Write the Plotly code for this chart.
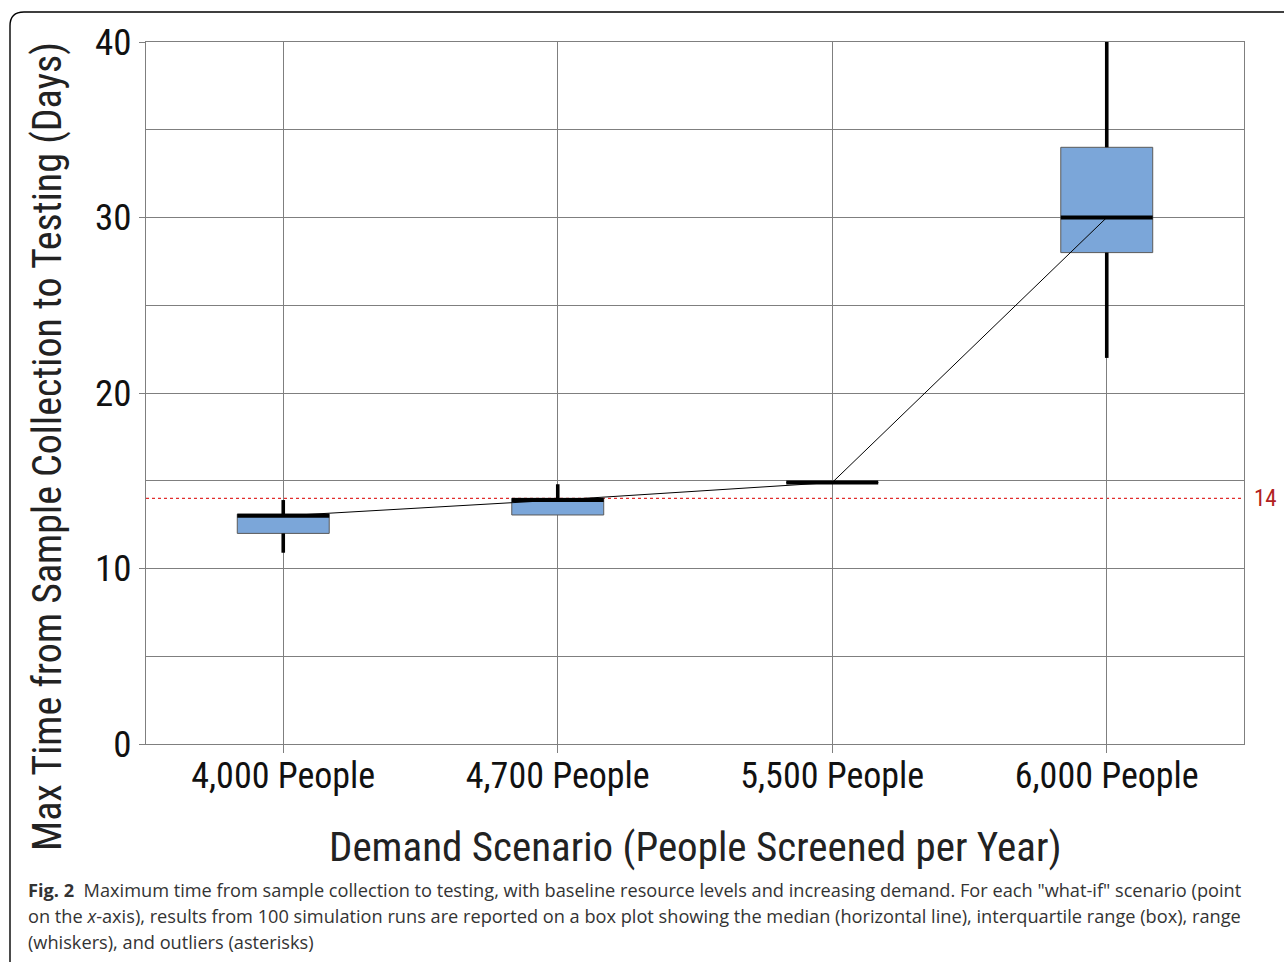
import plotly.graph_objects as go

# Demand scenarios and box-plot statistics (days)
scenarios = ["4,000 People", "4,700 People", "5,500 People", "6,000 People"]
lower_whisker = [10.9, 13.05, 14.9, 22.0]
q1 = [12.0, 13.05, 14.9, 28.0]
median = [13.0, 13.9, 14.9, 30.0]
q3 = [13.1, 14.0, 14.9, 34.0]
upper_whisker = [13.9, 14.8, 14.9, 40.0]
target_days = 14
y_ticks = [0, 10, 20, 30, 40]

W, H = 1284, 962
L, R, T, B = 146, 40, 42, 218
PW, PH = W - L - R, H - T - B

def px_x(x):
    return (x - L) / PW

def px_y(y):
    return (H - B - y) / PH

NARROW = "Liberation Sans Narrow, Arial Narrow, Roboto Condensed, Liberation Sans, sans-serif"
CAPTION = "Open Sans, Noto Sans, sans-serif"
BOX_W = 0.335
GRID = "#7f7f7f"

xs = list(range(len(scenarios)))

fig = go.Figure()

fig.add_trace(go.Box(
    x=xs, q1=q1, median=median, q3=q3,
    lowerfence=lower_whisker, upperfence=upper_whisker,
    width=BOX_W, whiskerwidth=0,
    fillcolor="#7ba6d9", line=dict(color="#5a5a5a", width=1),
    boxpoints=False, hoverinfo="skip", showlegend=False,
))

# line joining the medians
fig.add_trace(go.Scatter(
    x=xs, y=median, mode="lines",
    line=dict(color="black", width=1), showlegend=False, hoverinfo="skip",
))

# heavy whiskers
wx, wy = [], []
for i in xs:
    if upper_whisker[i] > q3[i]:
        wx += [i, i, None]
        wy += [q3[i], upper_whisker[i], None]
    if lower_whisker[i] < q1[i]:
        wx += [i, i, None]
        wy += [q1[i], lower_whisker[i], None]
fig.add_trace(go.Scatter(
    x=wx, y=wy, mode="lines",
    line=dict(color="black", width=3.6), showlegend=False, hoverinfo="skip",
))

# heavy median bars
mx, my = [], []
for i in xs:
    mx += [i - BOX_W / 2, i + BOX_W / 2, None]
    my += [median[i], median[i], None]
fig.add_trace(go.Scatter(
    x=mx, y=my, mode="lines",
    line=dict(color="black", width=4), showlegend=False, hoverinfo="skip",
))

shapes = [
    # 14-day target line
    dict(type="line", xref="paper", yref="y", x0=0, x1=1, y0=target_days, y1=target_days,
         line=dict(color="rgb(225,45,45)", width=1.2, dash="dot"), layer="below"),
    # figure frame
    dict(type="path", xref="paper", yref="paper",
         path=(f"M {px_x(10)} {px_y(975)} L {px_x(10)} {px_y(26)} "
               f"Q {px_x(10)} {px_y(12)} {px_x(24)} {px_y(12)} L {px_x(1300)} {px_y(12)}"),
         line=dict(color="black", width=1.4)),
]

annotations = [
    dict(text=str(target_days), x=px_x(1265), y=target_days, xref="paper", yref="y",
         showarrow=False, font=dict(family=NARROW, size=23, color="#b22222"),
         xanchor="center", yanchor="middle"),
    dict(text="Max Time from Sample Collection to Testing (Days)",
         x=px_x(48), y=px_y(447), xref="paper", yref="paper", textangle=-90,
         showarrow=False, font=dict(family=NARROW, size=40, color="#222"),
         xanchor="center", yanchor="middle"),
    dict(text="Demand Scenario (People Screened per Year)",
         x=0.5, y=px_y(847), xref="paper", yref="paper",
         showarrow=False, font=dict(family=NARROW, size=41, color="#222"),
         xanchor="center", yanchor="middle"),
]

caption_lines = [
    "<b>Fig. 2</b>  Maximum time from sample collection to testing, with baseline resource levels and increasing demand. For each \"what-if\" scenario (point",
    "on the <i>x</i>-axis), results from 100 simulation runs are reported on a box plot showing the median (horizontal line), interquartile range (box), range",
    "(whiskers), and outliers (asterisks)",
]
for k, line in enumerate(caption_lines):
    annotations.append(dict(
        text=line, x=px_x(26), y=px_y(890 + 26 * k), xref="paper", yref="paper",
        showarrow=False, xanchor="left", yanchor="middle", align="left",
        font=dict(family=CAPTION, size=18.2, color="#333"),
    ))

fig.update_layout(
    width=W, height=H,
    margin=dict(l=L, r=R, t=T, b=B),
    paper_bgcolor="white", plot_bgcolor="white",
    showlegend=False,
    shapes=shapes, annotations=annotations,
    xaxis=dict(
        range=[-0.5, len(scenarios) - 0.5], tickvals=xs, ticktext=scenarios,
        showgrid=True, gridcolor=GRID, gridwidth=1, zeroline=False,
        showline=True, linecolor=GRID, linewidth=1, mirror=True,
        ticks="outside", ticklen=8, tickcolor=GRID,
        tickfont=dict(family=NARROW, size=36, color="#111"),
        ticklabelstandoff=-8,
    ),
    yaxis=dict(
        range=[0, 40], tickvals=y_ticks,
        showgrid=True, gridcolor=GRID, gridwidth=1, zeroline=False,
        minor=dict(dtick=5, showgrid=True, gridcolor=GRID, gridwidth=1, ticks=""),
        showline=True, linecolor=GRID, linewidth=1, mirror=True,
        ticks="outside", ticklen=6, tickcolor=GRID,
        tickfont=dict(family=NARROW, size=37, color="#111"),
    ),
)

fig.write_html("out.html")
